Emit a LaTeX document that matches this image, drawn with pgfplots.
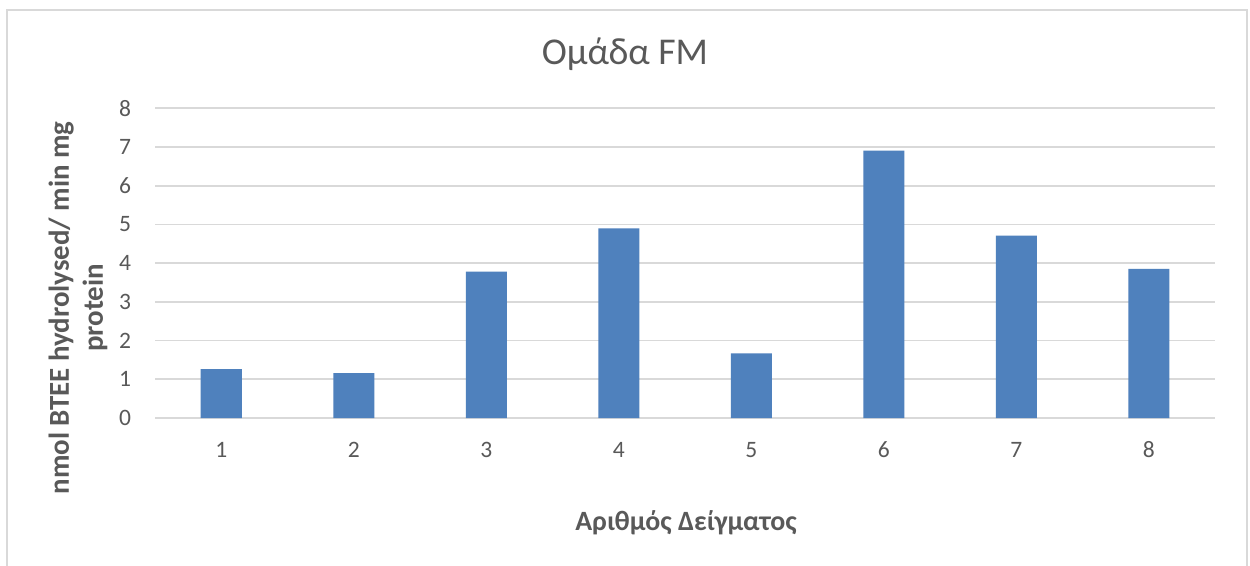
\documentclass[border=0pt]{standalone}
\usepackage{fontspec}
\setmainfont{Carlito}
\usepackage{pgfplots}
\pgfplotsset{compat=1.18}
\definecolor{barblue}{HTML}{4F81BD}
\definecolor{gridgray}{HTML}{D9D9D9}
\definecolor{txtgray}{HTML}{595959}
\begin{document}
\begin{tikzpicture}
\useasboundingbox (-77.5bp,-74bp) rectangle (547.5bp,209bp);
\fill[white] (-77.5bp,-74bp) rectangle (547.5bp,209bp);
\draw[gridgray, line width=0.8bp] (-74bp,-90bp) rectangle (546bp,204bp);
\begin{axis}[
  scale only axis,
  width=530bp, height=154.85bp,
  at={(0,0)}, anchor=south west,
  xmin=0.5, xmax=8.5, ymin=0, ymax=8,
  xtick={1,...,8}, ytick={0,...,8},
  ymajorgrids, grid style={gridgray, line width=0.9bp},
  axis line style={draw=none},
  major tick length=0pt,
  tick label style={font=\fontsize{11.8}{14}\selectfont, text=txtgray},
  /pgf/number format/assume math mode=true,
  xticklabel style={anchor=center, yshift=-16bp},
  yticklabel style={anchor=east, xshift=-8.5bp},
  ybar, bar width=20.5bp,
  clip=false,
]
\addplot[fill=barblue, draw=none] coordinates {
  (1,1.26) (2,1.16) (3,3.78) (4,4.90) (5,1.67) (6,6.91) (7,4.71) (8,3.85)
};
\end{axis}
\node[text=txtgray, font=\fontsize{19}{22}\selectfont] at (235bp,182bp) {Ομάδα FM};
\node[text=txtgray, font=\fontsize{14}{16}\selectfont\bfseries] at (265.5bp,-52.5bp) {Αριθμός Δείγματος};
\node[text=txtgray, font=\fontsize{14.5}{17}\selectfont\bfseries, rotate=90, align=center] at (-38.5bp,55bp) {nmol BTEE hydrolysed/ min mg\\protein};
\end{tikzpicture}
\end{document}
